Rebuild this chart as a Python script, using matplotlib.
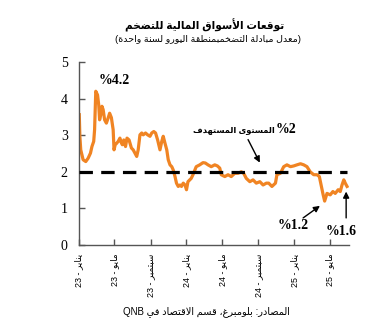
import pandas as pd
import matplotlib
matplotlib.use("Agg")
import matplotlib.pyplot as plt

# -----------------------------
# Euro area 1-year inflation swap rate (%)
# -----------------------------

dates = [
    "2023-01-02", "2023-01-04", "2023-01-07", "2023-01-15", "2023-01-24", "2023-02-01",
    "2023-02-09", "2023-02-14", "2023-02-20", "2023-02-23", "2023-02-27", "2023-03-05",
    "2023-03-09", "2023-03-12", "2023-03-16", "2023-03-20", "2023-03-24", "2023-03-29",
    "2023-04-04", "2023-04-10", "2023-04-15", "2023-04-21", "2023-04-27", "2023-04-30",
    "2023-05-04", "2023-05-09", "2023-05-14", "2023-05-20", "2023-05-23", "2023-05-28",
    "2023-06-02", "2023-06-08", "2023-06-13", "2023-06-20", "2023-06-28", "2023-07-04",
    "2023-07-10", "2023-07-16", "2023-07-21", "2023-07-27", "2023-08-02", "2023-08-07",
    "2023-08-15", "2023-08-22", "2023-08-30", "2023-09-05", "2023-09-12", "2023-09-18",
    "2023-09-25", "2023-10-03", "2023-10-09", "2023-10-14", "2023-10-20", "2023-10-26",
    "2023-10-31", "2023-11-06", "2023-11-12", "2023-11-17", "2023-11-23", "2023-11-28",
    "2023-12-04", "2023-12-10", "2023-12-15", "2023-12-21", "2023-12-27", "2024-01-01",
    "2024-01-06", "2024-01-17", "2024-01-23", "2024-02-03", "2024-02-15", "2024-02-26",
    "2024-03-05", "2024-03-14", "2024-03-25", "2024-04-06", "2024-04-15", "2024-04-23",
    "2024-04-28", "2024-05-10", "2024-05-21", "2024-06-01", "2024-06-13", "2024-06-24",
    "2024-07-05", "2024-07-13", "2024-07-22", "2024-08-03", "2024-08-14", "2024-08-25",
    "2024-09-06", "2024-09-17", "2024-09-28", "2024-10-06", "2024-10-17", "2024-10-29",
    "2024-11-03", "2024-11-15", "2024-11-26", "2024-12-07", "2024-12-19", "2024-12-30",
    "2025-01-10", "2025-01-22", "2025-02-02", "2025-02-13", "2025-02-24", "2025-03-08",
    "2025-03-19", "2025-03-27", "2025-04-03", "2025-04-09", "2025-04-14", "2025-04-22",
    "2025-05-03", "2025-05-12", "2025-05-20", "2025-05-30", "2025-06-06", "2025-06-12",
    "2025-06-18", "2025-06-23", "2025-06-29",
]

swap_rate = [
    3.56, 2.97, 2.60, 2.33, 2.28, 2.37,
    2.51, 2.69, 2.83, 3.15, 4.20, 4.10,
    3.83, 3.42, 3.56, 3.79, 3.70, 3.42,
    3.33, 3.47, 3.60, 3.48, 3.15, 2.60,
    2.74, 2.78, 2.83, 2.92, 2.83, 2.74,
    2.87, 2.69, 2.92, 2.87, 2.65, 2.60,
    2.51, 2.42, 2.60, 3.01, 3.06, 3.01,
    3.06, 3.01, 2.97, 3.06, 3.10, 3.06,
    2.87, 2.60, 2.83, 2.97, 2.78, 2.60,
    2.33, 2.19, 2.14, 2.05, 1.87, 1.69,
    1.60, 1.64, 1.60, 1.69, 1.64, 1.51,
    1.73, 1.82, 1.92, 2.14, 2.19, 2.25,
    2.24, 2.19, 2.14, 2.19, 2.16, 2.10,
    1.92, 1.87, 1.92, 1.87, 1.96, 1.96,
    2.00, 1.96, 1.82, 1.73, 1.78, 1.69,
    1.73, 1.64, 1.69, 1.69, 1.60, 1.69,
    1.92, 1.96, 2.14, 2.19, 2.14, 2.16,
    2.19, 2.22, 2.19, 2.14, 2.00, 1.92,
    1.92, 1.87, 1.60, 1.37, 1.20, 1.41,
    1.37, 1.46, 1.41, 1.51, 1.46, 1.64,
    1.78, 1.69, 1.60,
]

ecb_target = 2.0

tick_dates = ["2023-01-01", "2023-05-01", "2023-09-01", "2024-01-01",
              "2024-05-01", "2024-09-01", "2025-01-01", "2025-05-01"]
tick_labels = ["يناير - 23", "مايو - 23", "سبتمبر - 23", "يناير - 24",
               "مايو - 24", "سبتمبر - 24", "يناير - 25", "مايو - 25"]

title = "توقعات الأسواق المالية للتضخم"
subtitle = "معدل مبادلة التضخمبمنطقة اليورو لسنة واحدة"
target_label = "المستوى المستهدف"
source = "المصادر: بلومبرغ، قسم الاقتصاد في QNB"

# -----------------------------
# Minimal Arabic shaping (matplotlib has no bidi / joining support)
# -----------------------------

# letter -> (first presentation form, number of forms: iso, fin, ini, med)
FORMS = {
    "ء": (0xFE80, 1), "آ": (0xFE81, 2), "أ": (0xFE83, 2), "ؤ": (0xFE85, 2),
    "إ": (0xFE87, 2), "ئ": (0xFE89, 4), "ا": (0xFE8D, 2), "ب": (0xFE8F, 4),
    "ة": (0xFE93, 2), "ت": (0xFE95, 4), "ث": (0xFE99, 4), "ج": (0xFE9D, 4),
    "ح": (0xFEA1, 4), "خ": (0xFEA5, 4), "د": (0xFEA9, 2), "ذ": (0xFEAB, 2),
    "ر": (0xFEAD, 2), "ز": (0xFEAF, 2), "س": (0xFEB1, 4), "ش": (0xFEB5, 4),
    "ص": (0xFEB9, 4), "ض": (0xFEBD, 4), "ط": (0xFEC1, 4), "ظ": (0xFEC5, 4),
    "ع": (0xFEC9, 4), "غ": (0xFECD, 4), "ف": (0xFED1, 4), "ق": (0xFED5, 4),
    "ك": (0xFED9, 4), "ل": (0xFEDD, 4), "م": (0xFEE1, 4), "ن": (0xFEE5, 4),
    "ه": (0xFEE9, 4), "و": (0xFEED, 2), "ى": (0xFEEF, 2), "ي": (0xFEF1, 4),
}
LAM_ALEF = {"آ": 0xFEF5, "أ": 0xFEF7, "إ": 0xFEF9, "ا": 0xFEFB}


def shape(word):
    out = []
    i, n = 0, len(word)
    while i < n:
        c = word[i]
        if c not in FORMS:
            out.append(c)
            i += 1
            continue
        prev = word[i - 1] if i > 0 else ""
        joins_prev = prev in FORMS and FORMS[prev][1] == 4
        if c == "ل" and i + 1 < n and word[i + 1] in LAM_ALEF:
            out.append(chr(LAM_ALEF[word[i + 1]] + int(joins_prev)))
            i += 2
            continue
        nxt = word[i + 1] if i + 1 < n else ""
        base, k = FORMS[c]
        joins_next = k == 4 and nxt in FORMS and FORMS[nxt][1] > 1
        if k == 1:
            form = 0
        elif joins_prev and joins_next:
            form = 3
        elif joins_prev:
            form = 1
        elif joins_next:
            form = 2
        else:
            form = 0
        out.append(chr(base + form))
        i += 1
    return "".join(out)


def ar(text):
    tokens = []
    for t in text.split(" "):
        if any("\u0600" <= ch <= "\u06ff" for ch in t):
            t = shape(t)[::-1]
        tokens.append(t)
    return " ".join(reversed(tokens))


# -----------------------------
# Plot
# -----------------------------

SANS = ["Liberation Sans", "DejaVu Sans"]
SERIF = ["Liberation Serif", "DejaVu Serif"]
ORANGE = "#F08423"

x = pd.to_datetime(dates)

fig = plt.figure(figsize=(3.81, 3.29), dpi=100)
ax = fig.add_axes([0.2073, 0.2553, 0.7074, 0.5563])

ax.plot(x, swap_rate, color=ORANGE, linewidth=2.3, solid_joinstyle="round", zorder=2)
ax.plot([x[0], x[-1]], [ecb_target, ecb_target], color="black", linewidth=2.3,
        dashes=(4.2, 2.6), zorder=3)

ax.set_ylim(0, 5)
ax.set_yticks(range(6))
ax.set_xlim(pd.Timestamp("2023-01-01"), pd.Timestamp("2025-07-04"))
ax.set_xticks(pd.to_datetime(tick_dates))
ax.set_xticklabels([ar(t) for t in tick_labels], rotation=90, family=SANS, fontsize=6.4)
for lab in ax.get_yticklabels():
    lab.set_family(SERIF)
    lab.set_fontsize(10)

ax.tick_params(axis="both", direction="in", length=4, width=1, color="#555555")
ax.tick_params(axis="y", pad=8)
ax.tick_params(axis="x", pad=6)
for side in ("top", "right"):
    ax.spines[side].set_visible(False)
for side in ("left", "bottom"):
    ax.spines[side].set_color("#555555")
    ax.spines[side].set_linewidth(1)

bold_serif = dict(family=SERIF, fontweight="bold", fontsize=10, ha="center", va="center")
arrow = dict(arrowstyle="-|>", color="black", lw=1, mutation_scale=9, shrinkA=0, shrinkB=0)

ax.text(pd.Timestamp("2023-04-30"), 4.49, "%4.2", **bold_serif)

# target annotation: Arabic words in sans, "%2" in bold serif
ax.text(pd.Timestamp("2024-10-25"), 3.15, ar(target_label), family=SANS,
        fontweight="bold", fontsize=6, ha="right", va="center")
ax.text(pd.Timestamp("2024-10-28"), 3.15, "%2", family=SERIF, fontweight="bold",
        fontsize=10, ha="left", va="center")
ax.annotate("", xy=(pd.Timestamp("2024-09-06"), 2.25),
            xytext=(pd.Timestamp("2024-07-28"), 2.88), arrowprops=arrow)

ax.annotate("", xy=(pd.Timestamp("2025-03-29"), 1.07),
            xytext=(pd.Timestamp("2025-01-31"), 0.74), arrowprops=arrow)
ax.text(pd.Timestamp("2024-12-28"), 0.52, "%1.2", **bold_serif)
ax.annotate("", xy=(pd.Timestamp("2025-06-26"), 1.46),
            xytext=(pd.Timestamp("2025-06-26"), 0.74), arrowprops=arrow)
ax.text(pd.Timestamp("2025-06-10"), 0.38, "%1.6", **bold_serif)

fig.text(0.537, 1 - 25 / 329, ar(title), family=SANS, fontweight="bold",
         fontsize=7.6, ha="center", va="center")
fig.text(0.546, 1 - 40 / 329, "(" + ar(subtitle) + ")", family=SANS,
         fontsize=6.8, ha="center", va="center")
fig.text(0.541, 1 - 312 / 329, ar(source), family=SANS, fontsize=7,
         ha="center", va="center")

fig.savefig("out.png", dpi=100)
